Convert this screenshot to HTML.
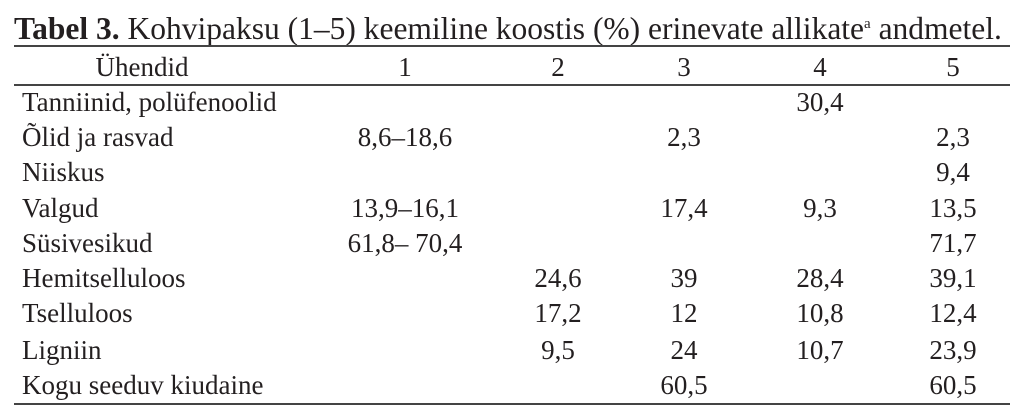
<!DOCTYPE html>
<html><head><meta charset="utf-8"><style>
html,body{margin:0;padding:0;background:#fff;}
body{width:1024px;height:411px;position:relative;overflow:hidden;font-family:"Liberation Serif",serif;color:#231f20;}
.t{position:absolute;white-space:nowrap;font-size:27px;line-height:30px;}
.c{transform:translateX(-50%);}
.ln{position:absolute;left:14px;width:996px;background:#444;}
</style></head><body>
<div class="t" style="left:14px;top:12px;font-size:31.5px;line-height:34px;"><b>Tabel 3.</b> Kohvipaksu (1–5) keemiline koostis (%) erinevate allikate<sup style="font-size:15px;vertical-align:11px;line-height:0">a</sup> andmetel.</div>
<div class="ln" style="top:45px;height:2px;"></div>
<div class="ln" style="top:84px;height:2px;"></div>
<div class="ln" style="top:403px;height:2px;"></div>
<div class="t c" style="left:142px;top:52px;">Ühendid</div>
<div class="t c" style="left:405px;top:52px;">1</div>
<div class="t c" style="left:558px;top:52px;">2</div>
<div class="t c" style="left:684px;top:52px;">3</div>
<div class="t c" style="left:820px;top:52px;">4</div>
<div class="t c" style="left:953px;top:52px;">5</div>

<div class="t" style="left:22px;top:87px;">Tanniinid, polüfenoolid</div>
<div class="t c" style="left:820px;top:87px;">30,4</div>

<div class="t" style="left:22px;top:122px;">Õlid ja rasvad</div>
<div class="t c" style="left:405px;top:122px;">8,6–18,6</div>
<div class="t c" style="left:684px;top:122px;">2,3</div>
<div class="t c" style="left:953px;top:122px;">2,3</div>

<div class="t" style="left:22px;top:157px;">Niiskus</div>
<div class="t c" style="left:953px;top:157px;">9,4</div>

<div class="t" style="left:22px;top:193px;">Valgud</div>
<div class="t c" style="left:405px;top:193px;">13,9–16,1</div>
<div class="t c" style="left:684px;top:193px;">17,4</div>
<div class="t c" style="left:820px;top:193px;">9,3</div>
<div class="t c" style="left:953px;top:193px;">13,5</div>

<div class="t" style="left:22px;top:228px;">Süsivesikud</div>
<div class="t c" style="left:405px;top:228px;">61,8– 70,4</div>
<div class="t c" style="left:953px;top:228px;">71,7</div>

<div class="t" style="left:22px;top:263px;">Hemitselluloos</div>
<div class="t c" style="left:558px;top:263px;">24,6</div>
<div class="t c" style="left:684px;top:263px;">39</div>
<div class="t c" style="left:820px;top:263px;">28,4</div>
<div class="t c" style="left:953px;top:263px;">39,1</div>

<div class="t" style="left:22px;top:298px;">Tselluloos</div>
<div class="t c" style="left:558px;top:298px;">17,2</div>
<div class="t c" style="left:684px;top:298px;">12</div>
<div class="t c" style="left:820px;top:298px;">10,8</div>
<div class="t c" style="left:953px;top:298px;">12,4</div>

<div class="t" style="left:22px;top:335px;">Ligniin</div>
<div class="t c" style="left:558px;top:335px;">9,5</div>
<div class="t c" style="left:684px;top:335px;">24</div>
<div class="t c" style="left:820px;top:335px;">10,7</div>
<div class="t c" style="left:953px;top:335px;">23,9</div>

<div class="t" style="left:22px;top:370px;">Kogu seeduv kiudaine</div>
<div class="t c" style="left:684px;top:370px;">60,5</div>
<div class="t c" style="left:953px;top:370px;">60,5</div>
</body></html>
